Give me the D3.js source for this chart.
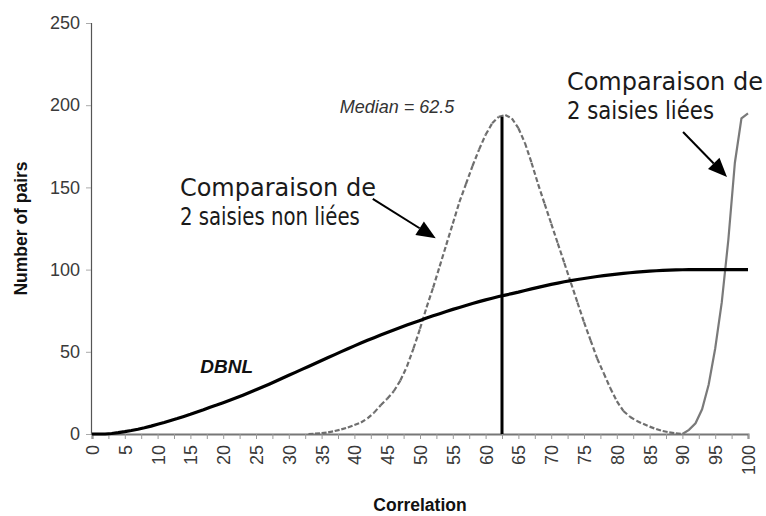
<!DOCTYPE html>
<html>
<head>
<meta charset="utf-8">
<script src="https://cdn.jsdelivr.net/npm/d3@7"></script>
<style>
  html, body { margin: 0; padding: 0; background: #fff; }
  svg { display: block; }
</style>
</head>
<body>
<svg id="chart" width="766" height="516"></svg>
<script>
// Correlation values on the x axis (0 .. 100, step 1)
const correlation = d3.range(0, 101);

// DBNL: cumulative curve, number of pairs
const dbnl = [
  0, 0, 0, 0.3, 0.8, 1.4, 2.1, 2.9, 3.8, 4.8,
  5.9, 7.0, 8.2, 9.4, 10.7, 12.0, 13.4, 14.8, 16.3, 17.6,
  19.0, 20.5, 22.0, 23.6, 25.2, 26.9, 28.6, 30.3, 32.1, 33.9,
  35.7, 37.5, 39.3, 41.1, 42.9, 44.7, 46.5, 48.3, 50.1, 51.9,
  53.6, 55.3, 57.0, 58.6, 60.2, 61.8, 63.3, 64.8, 66.3, 67.7,
  69.1, 70.5, 71.9, 73.2, 74.5, 75.8, 77.0, 78.2, 79.4, 80.5,
  81.6, 82.6, 83.6, 84.5, 85.4, 86.3, 87.3, 88.3, 89.2, 90.1,
  91.0, 91.8, 92.6, 93.3, 94.0, 94.6, 95.2, 95.8, 96.3, 96.8,
  97.3, 97.7, 98.1, 98.5, 98.8, 99.1, 99.3, 99.5, 99.7, 99.8,
  99.9, 100, 100, 100, 100, 100, 100, 100, 100, 100, 100
];

// Comparison of two unlinked entries (dashed bell curve)
const nonLiees = [
  0, 0, 0, 0, 0, 0, 0, 0, 0, 0,
  0, 0, 0, 0, 0, 0, 0, 0, 0, 0,
  0, 0, 0, 0, 0, 0, 0, 0, 0, 0,
  0, 0, 0, 0, 0.2, 0.5, 1, 1.8, 2.8, 4,
  5.5, 7, 9.5, 13, 17.5, 21.5, 26, 32.5, 41, 52,
  64, 77, 89, 102, 115, 128, 141, 152, 163, 173,
  182, 189, 193, 194, 192, 186, 177, 165, 152, 140,
  128, 116, 104, 92, 80, 68, 57, 46, 37, 28,
  20, 14, 10.5, 8, 6.2, 4.5, 3, 1.8, 1, 0.4,
  0, 0, 0, 0, 0, 0, 0, 0, 0, 0, 0
];

// Comparison of two linked entries (solid grey curve near 100)
const liees = [
  0, 0, 0, 0, 0, 0, 0, 0, 0, 0,
  0, 0, 0, 0, 0, 0, 0, 0, 0, 0,
  0, 0, 0, 0, 0, 0, 0, 0, 0, 0,
  0, 0, 0, 0, 0, 0, 0, 0, 0, 0,
  0, 0, 0, 0, 0, 0, 0, 0, 0, 0,
  0, 0, 0, 0, 0, 0, 0, 0, 0, 0,
  0, 0, 0, 0, 0, 0, 0, 0, 0, 0,
  0, 0, 0, 0, 0, 0, 0, 0, 0, 0,
  0, 0, 0, 0, 0, 0, 0, 0, 0, 0,
  0, 2.5, 6.5, 15, 30, 52, 80, 118, 165, 192, 195
];

const median = 62.5;
const yTicks = [0, 50, 100, 150, 200, 250];
const xMinorTicks = d3.range(0, 100.1, 2.5);
const xLabelStep = 5;

const svg = d3.select("#chart");
const x = d3.scaleLinear().domain([0, 100]).range([92, 748]);
const y = d3.scaleLinear().domain([0, 250]).range([434, 23]);

// ---- axes ----
const yAxis = svg.append("g")
  .attr("transform", `translate(${x(0) - 1},0)`)
  .call(d3.axisLeft(y).tickValues(yTicks).tickSize(5).tickPadding(6));
yAxis.select(".domain").attr("stroke", "#555").attr("stroke-width", 1.2);
yAxis.selectAll(".tick line").attr("stroke", "#aaa");
yAxis.selectAll(".tick text")
  .attr("font-family", "'Liberation Sans', Arial, sans-serif")
  .attr("font-size", 18).attr("fill", "#3a3a3a");

const xAxis = svg.append("g")
  .attr("transform", `translate(0,${y(0)})`)
  .call(d3.axisBottom(x).tickValues(xMinorTicks).tickSize(5)
    .tickFormat(d => (d % xLabelStep === 0 ? d : "")));
xAxis.select(".domain").attr("stroke", "#777").attr("stroke-width", 2);
xAxis.selectAll(".tick line").attr("stroke", "#999");
xAxis.selectAll(".tick text")
  .attr("font-family", "'Liberation Sans', Arial, sans-serif")
  .attr("font-size", 18).attr("fill", "#3a3a3a")
  .attr("transform", "rotate(-90)")
  .attr("text-anchor", "end")
  .attr("x", -11).attr("y", 0).attr("dy", "0.36em");

// axis titles
svg.append("text")
  .attr("transform", `translate(27,${(y(0) + y(250)) / 2}) rotate(-90)`)
  .attr("text-anchor", "middle")
  .attr("font-family", "'Liberation Sans', Arial, sans-serif")
  .attr("font-weight", "bold").attr("font-size", 17.5).attr("fill", "#111")
  .text("Number of pairs");

svg.append("text")
  .attr("x", (x(0) + x(100)) / 2).attr("y", 511)
  .attr("text-anchor", "middle")
  .attr("font-family", "'Liberation Sans', Arial, sans-serif")
  .attr("font-weight", "bold").attr("font-size", 17.5).attr("fill", "#111")
  .text("Correlation");

// ---- series ----
const pts = vals => correlation.map((c, i) => [c, vals[i]]);
const line = d3.line().x(d => x(d[0])).y(d => y(d[1]));

// segments that leave the baseline
function activeSegments(vals) {
  const segs = [];
  for (let i = 0; i < vals.length - 1; i++) {
    if (vals[i] > 0 || vals[i + 1] > 0) {
      segs.push([[correlation[i], vals[i]], [correlation[i + 1], vals[i + 1]]]);
    }
  }
  return segs;
}

// unlinked entries: dash pattern restarts on each segment
svg.append("g")
  .selectAll("path")
  .data(activeSegments(nonLiees))
  .join("path")
  .attr("d", line)
  .attr("fill", "none")
  .attr("stroke", "#6e6e6e")
  .attr("stroke-width", 2.2)
  .attr("stroke-dasharray", "5,2.6");

// linked entries
svg.append("path")
  .datum(pts(liees).filter((d, i) => liees[i] > 0 || liees[i + 1] > 0))
  .attr("d", line)
  .attr("fill", "none")
  .attr("stroke", "#7a7a7a")
  .attr("stroke-width", 2.2);

// DBNL
svg.append("path")
  .datum(pts(dbnl))
  .attr("d", line)
  .attr("fill", "none")
  .attr("stroke", "#000")
  .attr("stroke-width", 3.2)
  .attr("stroke-linejoin", "round");

// median line
const medianHeight = 193;
svg.append("line")
  .attr("x1", x(median)).attr("x2", x(median))
  .attr("y1", y(0)).attr("y2", y(medianHeight))
  .attr("stroke", "#000").attr("stroke-width", 3);

// ---- labels ----
svg.append("text")
  .attr("x", x(46.5)).attr("y", y(195.5))
  .attr("text-anchor", "middle")
  .attr("font-family", "'Liberation Sans', Arial, sans-serif")
  .attr("font-style", "italic").attr("font-size", 18).attr("fill", "#333")
  .text(`Median = ${median}`);

svg.append("text")
  .attr("x", x(16.5)).attr("y", y(37))
  .attr("font-family", "'Liberation Sans', Arial, sans-serif")
  .attr("font-style", "italic").attr("font-weight", "bold")
  .attr("font-size", 19).attr("fill", "#111")
  .text("DBNL");

const noteFont = "'DejaVu Sans', sans-serif";
function note(lines, widths, cx, cy) {
  const t = svg.append("text")
    .attr("font-family", noteFont).attr("font-weight", 400)
    .attr("font-size", 24).attr("fill", "#1a1a1a");
  lines.forEach((s, k) => {
    t.append("tspan")
      .attr("x", x(cx)).attr("y", y(cy) + k * 29)
      .attr("textLength", widths[k]).attr("lengthAdjust", "spacingAndGlyphs")
      .text(s);
  });
}
note(["Comparaison de", "2 saisies non liées"], [196, 180], 13.4, 145);
note(["Comparaison de", "2 saisies liées"], [196, 147], 72.4, 209);

function arrow(from, to) {
  const x1 = x(from[0]), y1 = y(from[1]), x2 = x(to[0]), y2 = y(to[1]);
  const a = Math.atan2(y2 - y1, x2 - x1);
  const len = 19, half = 8;
  const bx = x2 - len * Math.cos(a), by = y2 - len * Math.sin(a);
  svg.append("line")
    .attr("x1", x1).attr("y1", y1).attr("x2", bx).attr("y2", by)
    .attr("stroke", "#000").attr("stroke-width", 2);
  svg.append("path")
    .attr("d", `M${x2},${y2}L${bx + half * Math.sin(a)},${by - half * Math.cos(a)}L${bx - half * Math.sin(a)},${by + half * Math.cos(a)}Z`)
    .attr("fill", "#000");
}
arrow([42.8, 143], [52.4, 119]);
arrow([90.1, 183.7], [96.8, 156.3]);
</script>
</body>
</html>
